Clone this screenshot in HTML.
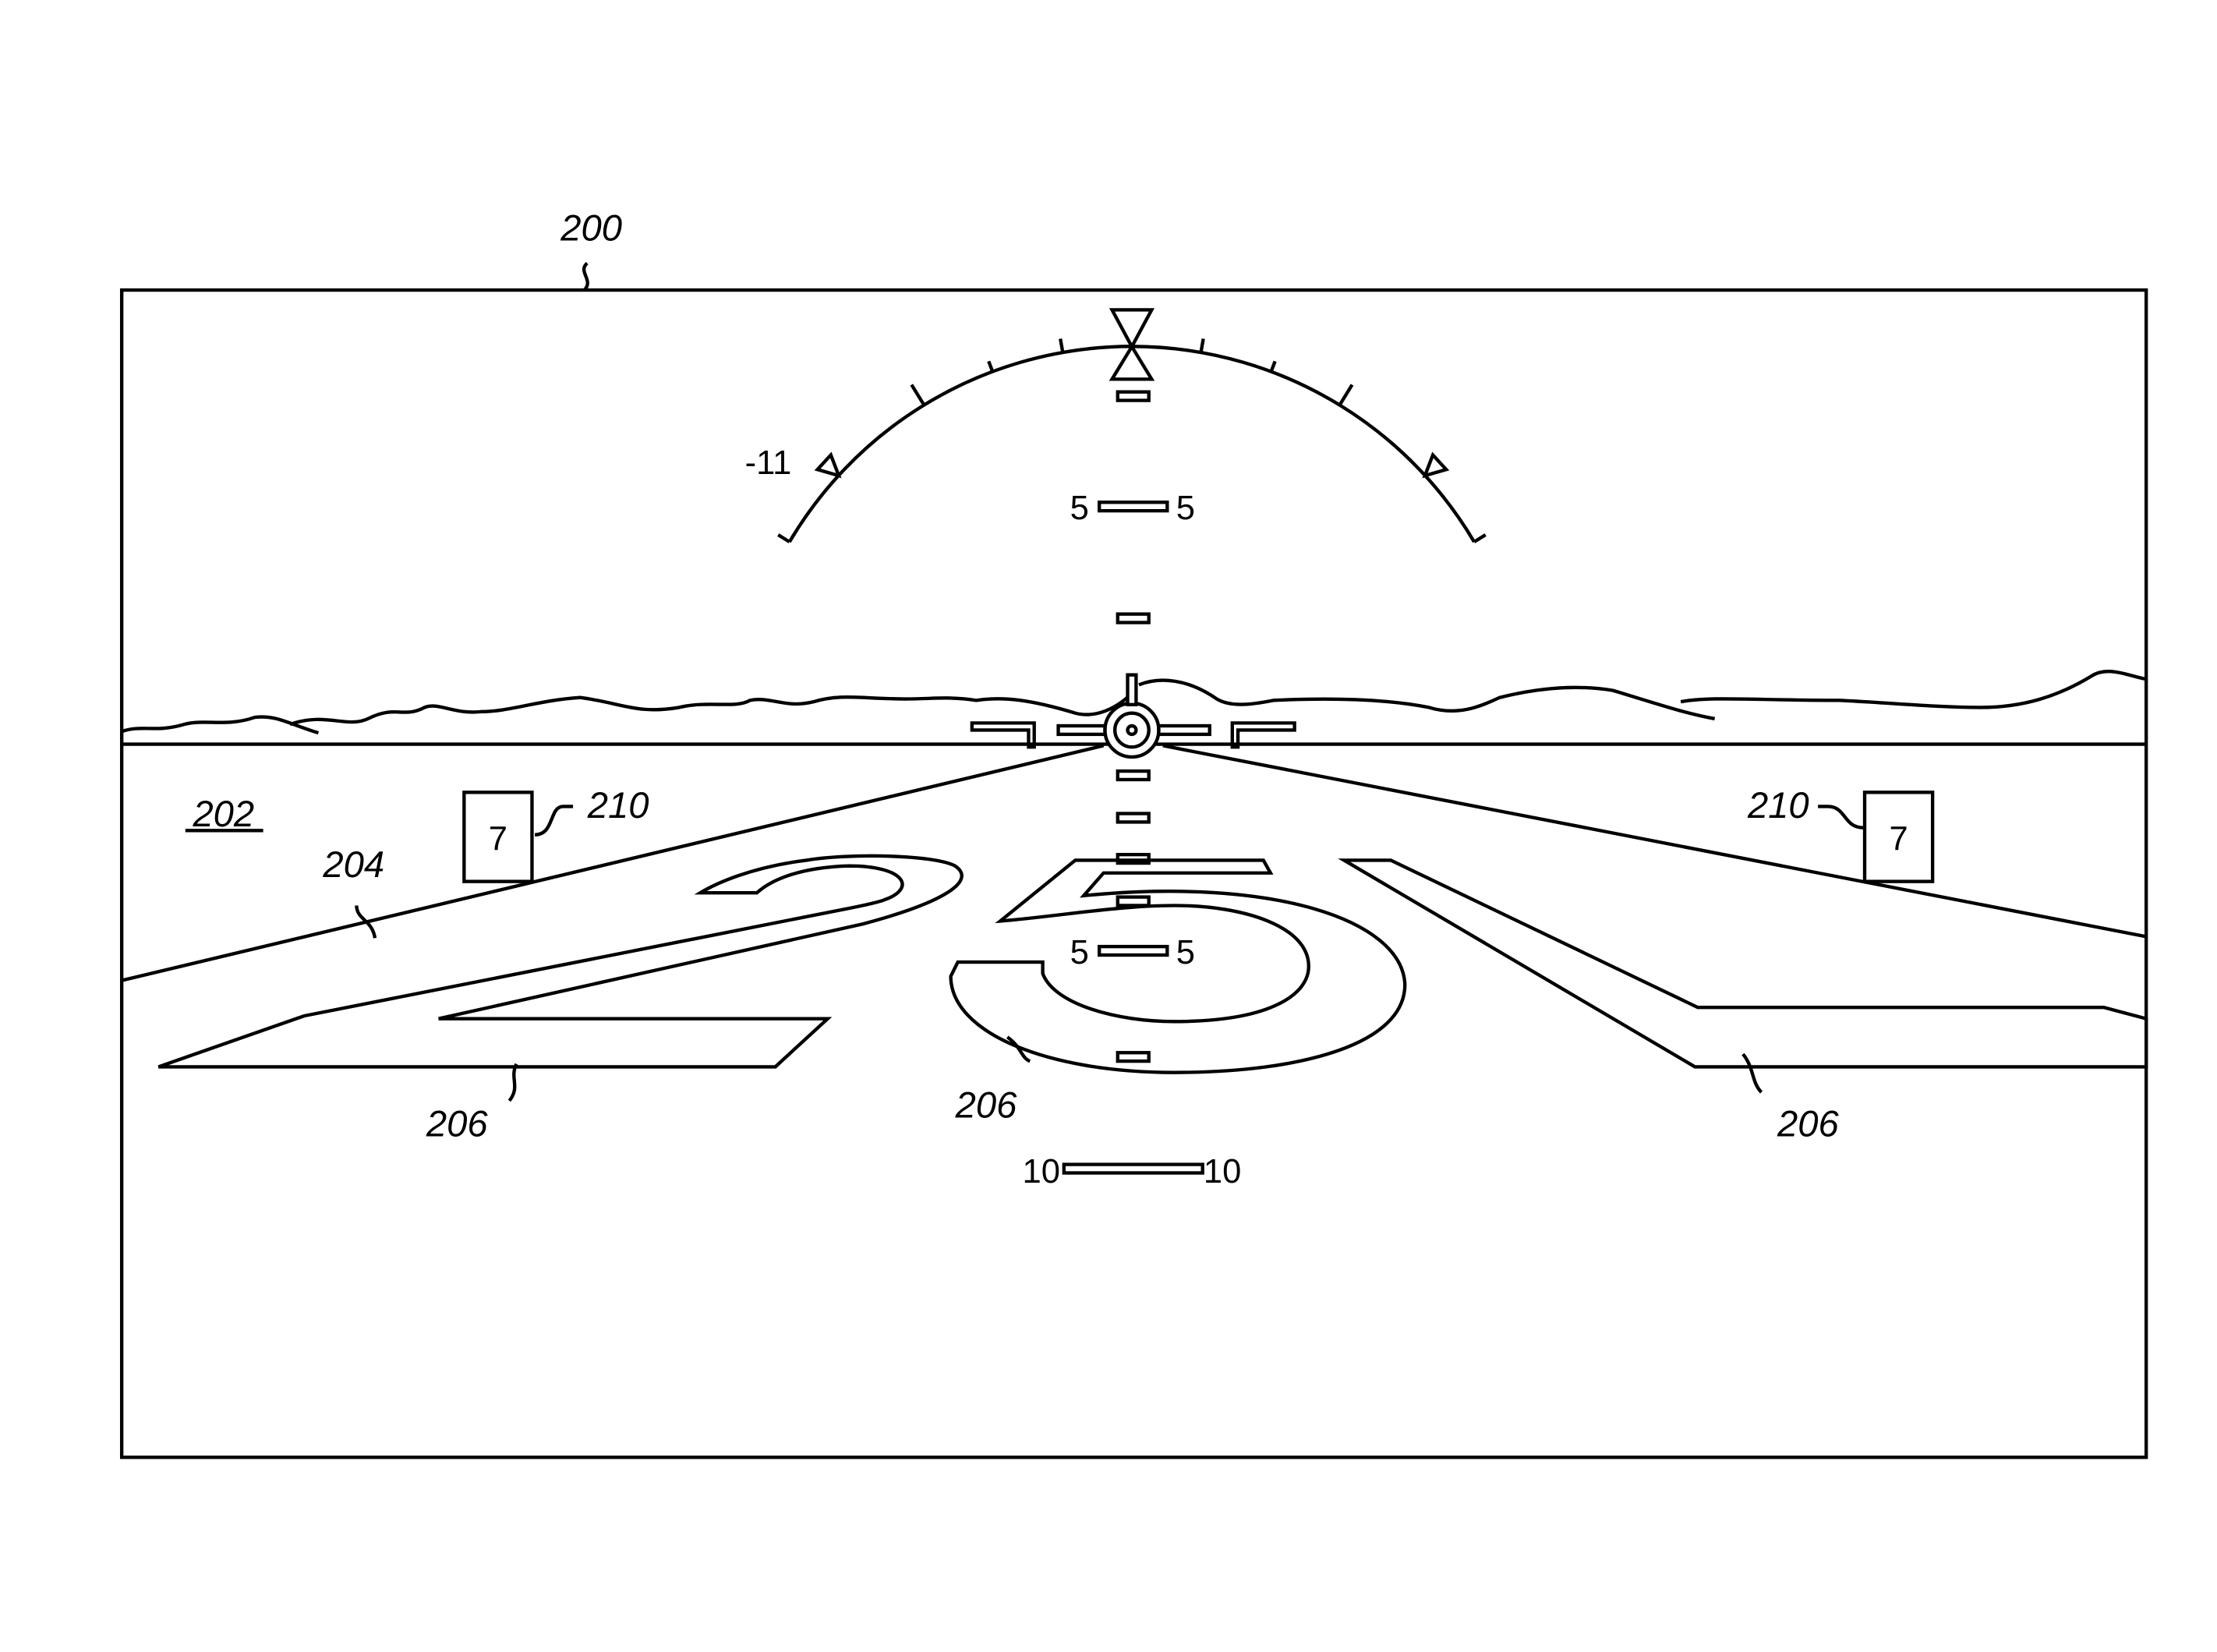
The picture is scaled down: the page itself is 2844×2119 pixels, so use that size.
<!DOCTYPE html>
<html><head><meta charset="utf-8"><style>
html,body{margin:0;padding:0;background:#fff;}
svg{display:block;}
text{font-family:"Liberation Sans Narrow","Liberation Sans",sans-serif;fill:#000;}
</style></head><body>
<svg width="2844" height="2119" viewBox="0 0 1567 1167.6" xmlns="http://www.w3.org/2000/svg">
<g fill="none" stroke="#000" stroke-width="2.4" stroke-linejoin="miter">
<rect x="86" y="205" width="1431" height="825"/>
<line x1="86" y1="526" x2="1517" y2="526"/>
<path d="M558,383 A281,281 0 0 1 1042,383"/>
<line x1="558" y1="383" x2="550" y2="378"/>
<line x1="1042" y1="383" x2="1050" y2="378"/>
<g transform="translate(800,526)">
<line x1="0" y1="-281" x2="0" y2="-291" transform="rotate(-10)"/>
<line x1="0" y1="-281" x2="0" y2="-289" transform="rotate(-20.5)"/>
<line x1="0" y1="-281" x2="0" y2="-298" transform="rotate(-31.5)"/>
<line x1="0" y1="-281" x2="0" y2="-291" transform="rotate(10)"/>
<line x1="0" y1="-281" x2="0" y2="-289" transform="rotate(20.5)"/>
<line x1="0" y1="-281" x2="0" y2="-298" transform="rotate(31.5)"/>
<path d="M0,-281 L-7,-295 L7,-295 Z" transform="rotate(-47.5)"/>
<path d="M0,-281 L-7,-295 L7,-295 Z" transform="rotate(47.5)"/>
</g>
<path d="M786,219 L814,219 L800,245 Z M800,245 L786,268 L814,268 Z"/>
<rect x="790" y="277" width="22" height="6"/>
<rect x="777" y="355" width="48" height="6"/>
<rect x="790" y="434" width="22" height="6"/>
<rect x="790" y="545" width="22" height="6"/>
<rect x="790" y="575" width="22" height="6"/>
<rect x="790" y="604" width="22" height="6"/>
<rect x="790" y="634" width="22" height="6"/>
<rect x="777" y="669" width="48" height="6"/>
<rect x="790" y="744" width="22" height="6"/>
<rect x="752" y="823" width="98" height="6"/>
<path d="M86,517 C100,512 110,518 130,512 C145,508 160,514 180,507 C195,505 205,512 225,518"/>
<path d="M205,512 C230,503 245,515 260,508 C280,498 285,508 300,500 C310,496 320,505 340,503 C360,503 380,495 410,493 C440,497 450,505 480,500 C500,495 520,501 530,495 C545,492 555,501 575,496 C595,490 610,494 640,494 C660,494 670,492 690,495 C710,492 730,495 760,504 C775,508 790,500 800,490"/>
<path d="M805,484 C820,478 840,480 860,494 C870,500 885,498 900,495 C940,493 980,494 1010,500 C1030,506 1045,500 1060,493 C1080,488 1110,483 1140,488 C1170,497 1190,504 1212,508"/>
<path d="M1188,496 C1210,492 1240,495 1300,495 C1340,497 1370,500 1400,500 C1430,500 1455,492 1478,478 C1490,470 1505,478 1517,480"/>
<circle cx="800" cy="516" r="19" fill="#fff"/>
<circle cx="800" cy="516" r="12"/>
<circle cx="800" cy="516" r="3"/>
<rect x="797" y="477" width="6" height="21" fill="#fff"/>
<rect x="748" y="513" width="33" height="6"/>
<rect x="819" y="513" width="36" height="6"/>
<path d="M687,511 L731,511 L731,528 L727,528 L727,516 L687,516 Z"/>
<path d="M915,511 L871,511 L871,528 L875,528 L875,516 L915,516 Z"/>
<line x1="780" y1="527" x2="86" y2="693"/>
<line x1="822" y1="527" x2="1517" y2="662"/>
<path d="M112,754 L548,754 L585,720 L310,720 L610,653 C670,637 690,622 675,612 C660,604 600,603 570,608 C530,613 505,625 495,631 L535,631 C545,622 565,613 600,612 C640,612 648,628 625,636 C620,638 610,640 600,642 L215,718 Z"/>
<path d="M707,651 L760,608 L893,608 L898,617 L780,617 L766,633 C900,620 990,650 993,695 C994,738 920,758 830,758 C740,758 672,730 672,690 L677,680 L737,680 L737,688 C745,710 790,722 830,722 C900,722 925,702 925,683 C925,655 880,640 830,640 C790,640 745,648 707,651 Z"/>
<path d="M950,608 L983,608 L1200,712 L1487,712 L1517,720 L1517,754 L1198,754 Z"/>
<rect x="328" y="560" width="48" height="63"/>
<rect x="1318" y="560" width="48" height="63"/>
<path d="M415,186 C408,192 420,198 413,205"/>
<path d="M378,590 C392,590 388,570 398,570 L405,570"/>
<path d="M1317,585 C1303,585 1305,570 1292,570 L1285,570"/>
<path d="M252,640 C252,650 263,650 265,663"/>
<path d="M365,752 C360,762 368,768 360,778"/>
<path d="M712,733 C722,740 722,748 728,750"/>
<path d="M1232,745 C1240,755 1238,765 1245,772"/>
<line x1="131" y1="587" x2="186" y2="587"/>
</g>
<g font-size="26" font-style="italic">
<text x="418" y="170" text-anchor="middle">200</text>
<text x="158" y="584" text-anchor="middle">202</text>
<text x="250" y="620" text-anchor="middle">204</text>
<text x="437" y="578" text-anchor="middle">210</text>
<text x="1257" y="578" text-anchor="middle">210</text>
<text x="323" y="803" text-anchor="middle">206</text>
<text x="697" y="790" text-anchor="middle">206</text>
<text x="1278" y="803" text-anchor="middle">206</text>
</g>
<g font-size="24" font-family="Liberation Serif">
<text x="543" y="335" text-anchor="middle" font-family="Liberation Serif">-11</text>
<text x="763" y="367" text-anchor="middle" font-family="Liberation Serif">5</text>
<text x="838" y="367" text-anchor="middle" font-family="Liberation Serif">5</text>
<text x="763" y="681" text-anchor="middle" font-family="Liberation Serif">5</text>
<text x="838" y="681" text-anchor="middle" font-family="Liberation Serif">5</text>
<text x="736" y="836" text-anchor="middle" font-family="Liberation Serif">10</text>
<text x="864" y="836" text-anchor="middle" font-family="Liberation Serif">10</text>
<text x="352" y="601" text-anchor="middle" font-family="Liberation Serif">7</text>
<text x="1342" y="601" text-anchor="middle" font-family="Liberation Serif">7</text>
</g>
</svg>
</body></html>
